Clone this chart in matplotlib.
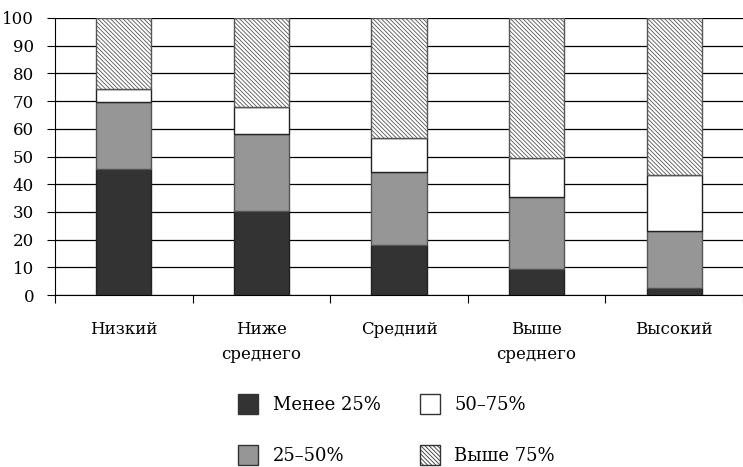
import numpy as np
import matplotlib.pyplot as plt
from matplotlib.patches import Patch

plt.rcParams['font.family'] = ['DejaVu Serif']
plt.rcParams['hatch.linewidth'] = 0.6

categories = ["Низкий", "Ниже\nсреднего", "Средний", "Выше\nсреднего", "Высокий"]
less25 = [45.5, 30.5, 18.0, 9.5, 2.5]
p25_50 = [24.0, 27.5, 26.5, 26.0, 20.5]
p50_75 = [5.0, 10.0, 12.0, 14.0, 20.5]
above75 = [25.5, 32.0, 43.5, 50.5, 56.5]
series_names = ["Менее 25%", "25–50%", "50–75%", "Выше 75%"]

fig = plt.figure(figsize=(7.43, 4.67), dpi=100)
ax = fig.add_axes([55 / 743, 1 - 295 / 467, 688 / 743, 277 / 467])

x = np.arange(len(categories))
w = 0.4
bottom = np.zeros(len(categories))
styles = [dict(color='#333333', edgecolor='#222222'),
          dict(color='#969696', edgecolor='#555555'),
          dict(color='white', edgecolor='#222222'),
          dict(color='white', edgecolor='#555555', hatch='\\\\\\\\\\\\\\\\')]
for vals, st in zip([less25, p25_50, p50_75, above75], styles):
    ax.bar(x, vals, w, bottom=bottom, linewidth=1, zorder=3, **st)
    bottom += np.array(vals)

ax.set_xlim(-0.5, 4.5)
ax.set_ylim(0, 100)
ax.set_yticks(np.arange(0, 101, 10))
ax.yaxis.grid(True, color='black', linewidth=0.9)
ax.set_axisbelow(True)
for s in ['top', 'right']:
    ax.spines[s].set_visible(False)
ax.spines['left'].set_color('black')
ax.spines['bottom'].set_color('black')
ax.tick_params(axis='y', labelsize=12, length=6, pad=9)

# boundaries as major ticks, labels at centres as minor ticks
ax.set_xticks(np.arange(-0.5, 4.6, 1))
ax.set_xticklabels([])
ax.tick_params(axis='x', which='major', length=6)
ax.set_xticks(x, minor=True)
ax.set_xticklabels(categories, minor=True, fontsize=12, linespacing=1.55)
ax.tick_params(axis='x', which='minor', length=0, pad=19)

handles = [Patch(facecolor=st['color'], edgecolor='#333333', hatch=st.get('hatch'), label=n)
           for st, n in zip(styles, series_names)]
fig.legend(handles=handles, ncol=2, loc='upper left', bbox_to_anchor=(222 / 743, 1 - 378 / 467),
           frameon=False, fontsize=13, handlelength=1.1, handleheight=1.3,
           labelspacing=1.7, columnspacing=2.2, handletextpad=0.8)

fig.savefig('out.png', dpi=100)
